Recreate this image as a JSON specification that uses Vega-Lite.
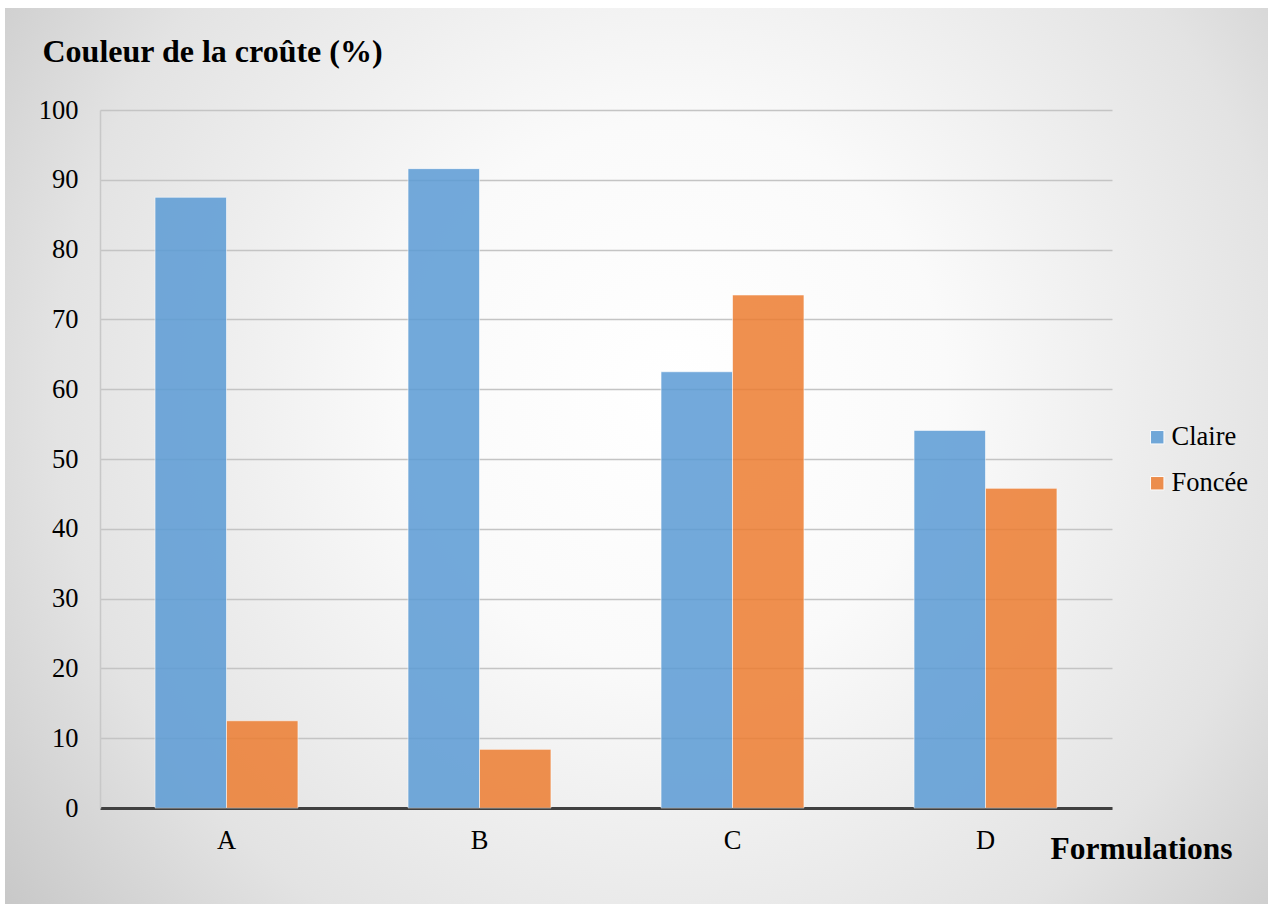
{
  "$schema": "https://vega.github.io/schema/vega-lite/v6.json",
  "autosize": {"type": "none"},
  "padding": {"left": 5, "top": 8, "right": 0, "bottom": 1},
  "width": 1263,
  "height": 896,
  "background": "#ffffff",
  "config": {
    "font": "'Liberation Serif', 'Times New Roman', Times, 'DejaVu Serif', serif",
    "axis": {
      "labelFont": "'Liberation Serif', 'Times New Roman', Times, 'DejaVu Serif', serif",
      "titleFont": "'Liberation Serif', 'Times New Roman', Times, 'DejaVu Serif', serif"
    },
    "legend": {
      "labelFont": "'Liberation Serif', 'Times New Roman', Times, 'DejaVu Serif', serif",
      "titleFont": "'Liberation Serif', 'Times New Roman', Times, 'DejaVu Serif', serif"
    },
    "view": {
      "stroke": null,
      "fill": {
        "gradient": "radial",
        "x1": 0.53, "y1": 0.45, "r1": 0,
        "x2": 0.53, "y2": 0.45, "r2": 0.72,
        "stops": [
          {"offset": 0, "color": "#ffffff"},
          {"offset": 0.3, "color": "#fafafa"},
          {"offset": 0.68, "color": "#e3e3e3"},
          {"offset": 1, "color": "#c0c0c0"}
        ]
      }
    }
  },
  "data": {
    "values": [
      {"formulation": "A", "couleur": "Claire", "pct": 87.5},
      {"formulation": "A", "couleur": "Foncée", "pct": 12.5},
      {"formulation": "B", "couleur": "Claire", "pct": 91.6},
      {"formulation": "B", "couleur": "Foncée", "pct": 8.4},
      {"formulation": "C", "couleur": "Claire", "pct": 62.5},
      {"formulation": "C", "couleur": "Foncée", "pct": 73.5},
      {"formulation": "D", "couleur": "Claire", "pct": 54.1},
      {"formulation": "D", "couleur": "Foncée", "pct": 45.8}
    ]
  },
  "mark": {
    "type": "bar",
    "opacity": 0.85,
    "stroke": "#ffffff",
    "strokeOpacity": 0.6,
    "strokeWidth": 1
  },
  "encoding": {
    "x": {
      "field": "formulation",
      "type": "nominal",
      "sort": ["A", "B", "C", "D"],
      "scale": {"range": [95, 1107], "paddingInner": 0.435, "paddingOuter": 0.2175},
      "axis": {
        "orient": "bottom",
        "offset": -96,
        "labelAngle": 0,
        "labelFontSize": 26.5,
        "labelColor": "#000000",
        "labelPadding": 19,
        "ticks": false,
        "domainColor": "#404040",
        "domainWidth": 3,
        "grid": false,
        "title": "Formulations",
        "titleFontSize": 31.5,
        "titleFontWeight": "bold",
        "titleColor": "#000000",
        "titleAlign": "left",
        "titleBaseline": "alphabetic",
        "titleAnchor": "start",
        "titleX": 1045,
        "titleY": 50
      }
    },
    "xOffset": {
      "field": "couleur",
      "type": "nominal",
      "scale": {"paddingInner": 0, "paddingOuter": 0}
    },
    "y": {
      "field": "pct",
      "type": "quantitative",
      "scale": {"domain": [0, 100], "range": [800, 102], "nice": false, "zero": true},
      "axis": {
        "orient": "left",
        "offset": -95,
        "values": [0, 10, 20, 30, 40, 50, 60, 70, 80, 90, 100],
        "labelFontSize": 26.5,
        "labelColor": "#000000",
        "labelPadding": 22,
        "ticks": false,
        "domainColor": "#c8c8c8",
        "domainWidth": 1.5,
        "grid": true,
        "gridColor": "#c4c4c4",
        "gridWidth": 1.5,
        "title": "Couleur de la croûte (%)",
        "titleFontSize": 32,
        "titleFontWeight": "bold",
        "titleColor": "#000000",
        "titleAngle": 0,
        "titleAlign": "left",
        "titleBaseline": "alphabetic",
        "titleAnchor": "start",
        "titleX": -58,
        "titleY": 53
      }
    },
    "color": {
      "field": "couleur",
      "type": "nominal",
      "scale": {"domain": ["Claire", "Foncée"], "range": ["#5B9BD5", "#ED7D31"]},
      "legend": {
        "orient": "none",
        "legendX": 1139,
        "legendY": 416,
        "title": null,
        "padding": 0,
        "symbolType": "square",
        "symbolSize": 180,
        "symbolOpacity": 0.85,
        "symbolStrokeColor": "#ffffff",
        "symbolStrokeWidth": 1,
        "labelFontSize": 26.5,
        "labelColor": "#000000",
        "labelOffset": 1,
        "rowPadding": 19
      }
    }
  }
}
